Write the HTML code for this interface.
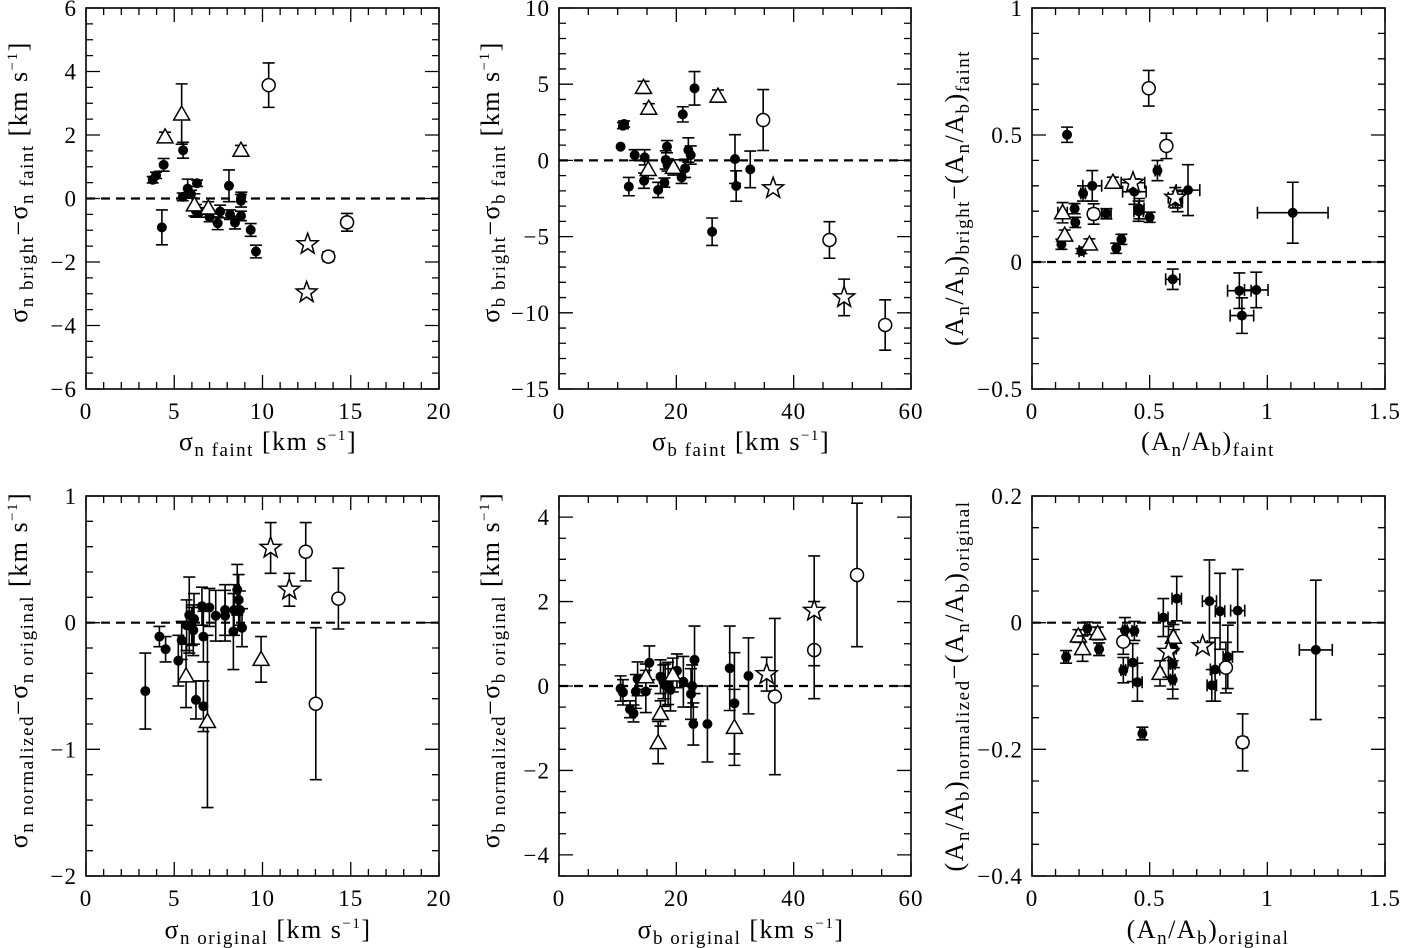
<!DOCTYPE html>
<html><head><meta charset="utf-8"><style>
html,body{margin:0;padding:0;background:#fff;}
svg{display:block;font-family:"Liberation Serif",serif;}
</style></head><body>
<svg id="fig" width="1403" height="948" viewBox="0 0 1403 948" xmlns="http://www.w3.org/2000/svg"></svg>
<script>
// kinds: f=filled circle, t=open triangle, o=open circle, s=open star
const p1_kind=['f','f','f','f','f','f','f','f','f','f','f','f','f','f','f','f','f','f','f','f','f','f','t','t','t','t','t','o','o','o','s','s'];
const p1_x=[3.78,3.97,4.4,4.3,5.5,5.48,5.76,6.29,5.95,6.23,6.4,7.0,7.46,7.6,8.1,8.16,8.44,8.78,8.78,8.8,9.33,9.63,4.48,5.42,6.14,6.93,8.78,10.35,13.73,14.79,12.56,12.5];
const p1_y=[0.59,0.73,1.06,-0.91,1.52,0.05,0.31,0.48,0.14,-0.39,-0.44,-0.58,-0.78,-0.41,0.4,-0.51,-0.76,-0.55,-0.07,0.05,-0.99,-1.67,1.94,2.66,-0.2,-0.3,1.52,3.57,-1.83,-0.75,-1.44,-2.96];
const p1_ey=[0.1,0.1,0.2,0.55,0.25,0.12,0.3,0.1,0.12,0.2,0.15,0.15,0.2,0.2,0.5,0.15,0.2,0.15,0.2,0.15,0.2,0.2,0.15,0.95,0.35,0.2,0.15,0.7,0.15,0.28,0,0];
const p1_ex=p1_x.map(()=>0);

const p2_kind=['f','f','f','f','f','f','f','f','f','f','f','f','f','f','f','f','f','f','f','f','f','f','t','t','t','t','t','o','o','o','s','s'];
const p2_x=[10.5,10.9,11.1,11.9,12.9,14.5,14.6,16.9,17.97,18.4,18.2,18.5,20.9,21.5,22.05,22.45,21.1,23.1,26.1,30.0,30.2,32.6,14.4,15.3,15.2,19.5,27.1,34.8,46.1,55.6,36.5,48.6];
const p2_y=[0.9,2.28,2.39,-1.72,0.35,-1.33,0.2,-1.94,-1.46,0.9,0.03,-0.3,-1.11,-0.52,0.68,0.35,3.02,4.73,-4.68,0.09,-1.68,-0.59,4.79,3.42,-0.6,-0.46,4.22,2.65,-5.22,-10.8,-1.83,-8.99];
const p2_ey=[0,0.2,0.2,0.6,0.35,0.5,0.5,0.5,0.3,0.4,0.6,0.4,0.4,0.6,0.8,0.6,0.5,1.1,0.9,1.6,1.0,1.2,0.4,0.3,0.6,0.5,0.4,2.0,1.2,1.65,0,1.2];
const p2_ex=p2_x.map(()=>0);

const p3_kind=['f','f','f','f','f','f','f','f','f','f','f','f','f','f','f','f','f','f','f','f','f','f','t','t','t','t','o','o','o','s','s'];
const p3_x=[0.149,0.125,0.181,0.184,0.21,0.217,0.256,0.316,0.358,0.38,0.435,0.453,0.456,0.5,0.533,0.598,0.619,0.663,0.881,0.953,0.892,1.108,0.13,0.139,0.244,0.344,0.496,0.571,0.262,0.429,0.609];
const p3_y=[0.501,0.07,0.21,0.156,0.043,0.27,0.3,0.19,0.054,0.089,0.277,0.2,0.21,0.176,0.36,-0.068,0.238,0.283,-0.113,-0.11,-0.211,0.194,0.194,0.106,0.071,0.314,0.684,0.457,0.189,0.312,0.253];
const p3_ex=[0,0.01,0.01,0.01,0.01,0.01,0.04,0.02,0.01,0.01,0.05,0.02,0.02,0.01,0.01,0.03,0.02,0.05,0.05,0.05,0.05,0.15,0.02,0.01,0.01,0.01,0,0.01,0.02,0.05,0.03];
const p3_ey=[0.03,0.02,0.02,0.02,0.01,0.03,0.06,0.02,0.02,0.02,0.05,0.04,0.04,0.02,0.04,0.04,0.04,0.1,0.07,0.07,0.07,0.12,0.04,0.02,0.02,0.02,0.07,0.05,0.04,0,0.04];

const p4_kind=['f','f','f','f','f','f','f','f','f','f','f','f','f','f','f','f','f','f','f','f','f','f','f','f','t','t','t','o','o','o','s','s'];
const p4_x=[3.36,4.16,4.51,5.23,5.42,5.7,5.85,5.99,6.08,6.12,6.23,6.57,6.65,6.65,6.99,7.35,7.88,7.88,8.35,8.39,8.57,8.65,8.72,8.84,5.67,6.88,9.92,12.45,13.02,14.3,10.46,11.52];
const p4_y=[-0.54,-0.11,-0.21,-0.3,-0.14,-0.02,0.06,-0.03,-0.06,0.03,-0.61,0.13,-0.11,-0.66,0.12,0.055,0.1,0.055,-0.07,0.1,0.26,0.18,0.1,-0.04,-0.42,-0.78,-0.29,0.56,-0.64,0.19,0.59,0.26];
const p4_ey=[0.3,0.08,0.1,0.2,0.15,0.2,0.3,0.15,0.2,0.2,0.15,0.15,0.2,0.2,0.15,0.2,0.2,0.2,0.3,0.2,0.2,0.2,0.15,0.15,0.25,0.68,0.18,0.23,0.6,0.24,0.2,0.13];
const p4_ex=p4_x.map(()=>0);

const p5_kind=['f','f','f','f','f','f','f','f','f','f','f','f','f','f','f','f','f','f','f','f','f','f','f','t','t','t','t','t','o','o','o','s','s'];
const p5_x=[10.5,10.9,12.1,12.7,13.1,13.4,14.8,15.4,17.3,17.8,18.1,18.6,19.0,20.1,21.2,22.5,22.7,23.1,22.9,25.3,29.1,29.9,32.3,14.8,17.3,16.9,19.4,29.9,36.8,43.5,50.8,35.4,43.5];
const p5_y=[-0.06,-0.15,-0.55,-0.65,-0.13,0.17,-0.13,0.55,0.22,0.1,0.02,0.06,-0.09,0.36,0.1,-0.19,0.0,0.62,-0.9,-0.9,0.42,-0.41,0.24,0.22,-0.65,-1.34,0.26,-0.98,-0.25,0.85,2.63,0.28,1.78];
const p5_ey=[0.3,0.3,0.2,0.2,0.4,0.4,0.5,0.4,0.4,0.4,0.5,0.5,0.5,0.4,0.6,0.6,0.5,0.8,0.5,0.9,1.0,1.2,0.9,0.3,0.3,0.5,0.4,0.9,1.85,1.15,1.7,0.4,1.3];
const p5_ex=p5_x.map(()=>0);

const p6_kind=['f','f','f','f','f','f','f','f','f','f','f','f','f','f','f','f','f','f','f','f','f','t','t','t','t','t','o','o','o','s','s'];
const p6_x=[0.145,0.235,0.285,0.395,0.388,0.428,0.435,0.448,0.469,0.558,0.615,0.603,0.598,0.598,0.754,0.778,0.764,0.799,0.832,0.874,1.206,0.197,0.215,0.279,0.544,0.601,0.388,0.824,0.895,0.725,0.58];
const p6_y=[-0.054,-0.009,-0.042,-0.012,-0.075,-0.063,-0.013,-0.094,-0.175,0.008,0.038,-0.041,-0.065,-0.09,0.034,-0.074,-0.099,0.018,-0.054,0.019,-0.043,-0.021,-0.041,-0.017,-0.08,-0.023,-0.03,-0.071,-0.189,-0.037,-0.046];
const p6_ex=[0.01,0.01,0.01,0.01,0.01,0.02,0.01,0.02,0.01,0.02,0.02,0.01,0.01,0.01,0.03,0.02,0.02,0.02,0.02,0.03,0.07,0.01,0.01,0.01,0.01,0.01,0.01,0.01,0.02,0.02,0.01];
const p6_ey=[0.01,0.01,0.01,0.02,0.02,0.03,0.015,0.03,0.01,0.03,0.035,0.03,0.04,0.03,0.065,0.05,0.025,0.06,0.05,0.065,0.11,0.01,0.02,0.01,0.02,0.02,0.02,0.04,0.045,0,0.04];

const NS='http://www.w3.org/2000/svg';
const svg=document.getElementById('fig');
function mk(tag,attrs,parent){const e=document.createElementNS(NS,tag);for(const k in attrs)e.setAttribute(k,attrs[k]);(parent||svg).appendChild(e);return e;}

const panels=[
 {id:'p1',L:86,R:439,T:8,B:389,x0:0,x1:20,y0:-6,y1:6,xM:5,xm:1,yM:2,ym:0.5,xt:[0,5,10,15,20],yt:[-6,-4,-2,0,2,4,6],k:p1_kind,x:p1_x,y:p1_y,ex:p1_ex,ey:p1_ey},
 {id:'p2',L:559,R:911,T:8,B:389,x0:0,x1:60,y0:-15,y1:10,xM:20,xm:5,yM:5,ym:1,xt:[0,20,40,60],yt:[-15,-10,-5,0,5,10],k:p2_kind,x:p2_x,y:p2_y,ex:p2_ex,ey:p2_ey},
 {id:'p3',L:1032,R:1385,T:8,B:389,x0:0,x1:1.5,y0:-0.5,y1:1,xM:0.5,xm:0.1,yM:0.5,ym:0.1,xt:[0,0.5,1,1.5],yt:[-0.5,0,0.5,1],k:p3_kind,x:p3_x,y:p3_y,ex:p3_ex,ey:p3_ey},
 {id:'p4',L:86,R:439,T:496,B:876,x0:0,x1:20,y0:-2,y1:1,xM:5,xm:1,yM:1,ym:0.2,xt:[0,5,10,15,20],yt:[-2,-1,0,1],k:p4_kind,x:p4_x,y:p4_y,ex:p4_ex,ey:p4_ey},
 {id:'p5',L:559,R:911,T:496,B:876,x0:0,x1:60,y0:-4.5,y1:4.5,xM:20,xm:5,yM:2,ym:0.5,xt:[0,20,40,60],yt:[-4,-2,0,2,4],k:p5_kind,x:p5_x,y:p5_y,ex:p5_ex,ey:p5_ey},
 {id:'p6',L:1032,R:1385,T:496,B:876,x0:0,x1:1.5,y0:-0.4,y1:0.2,xM:0.5,xm:0.1,yM:0.2,ym:0.05,xt:[0,0.5,1,1.5],yt:[-0.4,-0.2,0,0.2],k:p6_kind,x:p6_x,y:p6_y,ex:p6_ex,ey:p6_ey}
];
function fmt(v){let s=(Math.round(v*1000)/1000).toString();if(s.startsWith('-'))s='\u2212'+s.slice(1);return s;}

panels.forEach(P=>{
 const g=mk('g',{});
 
 
 const sx=v=>P.L+(v-P.x0)/(P.x1-P.x0)*(P.R-P.L);
 const sy=v=>P.B-(v-P.y0)/(P.y1-P.y0)*(P.B-P.T);
 const fr=mk('rect',{x:P.L,y:P.T,width:P.R-P.L,height:P.B-P.T,fill:'none',stroke:'#000','stroke-width':1.6},g);
 
 
 let d='';
 const nx=Math.round((P.x1-P.x0)/P.xm);
 for(let i=0;i<=nx;i++){const v=P.x0+i*P.xm;const X=sx(v);const maj=Math.abs(v/P.xM-Math.round(v/P.xM))<1e-6;const l=maj?14:7;d+=`M${X},${P.B}v${-l}M${X},${P.T}v${l}`;}
 const ny=Math.round((P.y1-P.y0)/P.ym);
 for(let i=0;i<=ny;i++){const v=P.y0+i*P.ym;const Y=sy(v);const maj=Math.abs(v/P.yM-Math.round(v/P.yM))<1e-6;const l=maj?14:7;d+=`M${P.L},${Y}h${l}M${P.R},${Y}h${-l}`;}
 const tk=mk('path',{d:d,stroke:'#000','stroke-width':1.3,fill:'none'},g);
 
 
 P.xt.forEach(v=>{const t=mk('text',{x:sx(v),y:P.B+30,'font-size':23,'letter-spacing':1,'text-anchor':'middle'},g);t.textContent=fmt(v);
  
  });
 P.yt.forEach(v=>{const t=mk('text',{x:P.L-9,y:sy(v)+8,'font-size':23,'letter-spacing':1,'text-anchor':'end'},g);t.textContent=fmt(v);
  
  });
 const z=mk('line',{x1:P.L,x2:P.R,y1:sy(0),y2:sy(0),stroke:'#000','stroke-width':2.2,'stroke-dasharray':'9,6'},g);
 
 
 for(let i=0;i<P.x.length;i++){
  const X=sx(P.x[i]),Y=sy(P.y[i]);
  let ed='';
  if(P.ey[i]>0){const a=sy(P.y[i]+P.ey[i]),b=sy(P.y[i]-P.ey[i]);ed+=`M${X},${a}V${b}M${X-6},${a}h12M${X-6},${b}h12`;}
  if(P.ex[i]>0){const a=sx(P.x[i]-P.ex[i]),b=sx(P.x[i]+P.ex[i]);ed+=`M${a},${Y}H${b}M${a},${Y-6}v12M${b},${Y-6}v12`;}
  if(ed){const e=mk('path',{d:ed,stroke:'#000','stroke-width':1.6,fill:'none'},g);
   
   }
  const k=P.k[i];let m;
  if(k==='f'){m=mk('circle',{cx:X,cy:Y,r:5,fill:'#000'},g);}
  else if(k==='o'){m=mk('circle',{cx:X,cy:Y,r:6.5,fill:'#fff',stroke:'#000','stroke-width':1.5},g);}
  else if(k==='t'){m=mk('polygon',{points:`${X},${Y-8} ${X-8},${Y+6} ${X+8},${Y+6}`,fill:'#fff',stroke:'#000','stroke-width':1.5},g);}
  else {let pts=[];for(let j=0;j<10;j++){const r=j%2?4.5:11;const a=-Math.PI/2+j*Math.PI/5;pts.push((X+r*Math.cos(a)).toFixed(1)+','+(Y+r*Math.sin(a)).toFixed(1));}
   m=mk('polygon',{points:pts.join(' '),fill:'#fff',stroke:'#000','stroke-width':1.5},g);}
  
  
 }
});
</script>
<svg style="position:absolute;left:0;top:0" width="1403" height="948" xmlns="http://www.w3.org/2000/svg" font-family="Liberation Serif, serif" font-size="26" letter-spacing="1.5">
 <text x="268" y="450" text-anchor="middle">σ<tspan font-size="19" dy="6">n faint</tspan><tspan dy="-6">  [km  s</tspan><tspan font-size="15" dy="-10">−1</tspan><tspan dy="10">]</tspan></text>
 <text x="741" y="450" text-anchor="middle">σ<tspan font-size="19" dy="6">b faint</tspan><tspan dy="-6">  [km  s</tspan><tspan font-size="15" dy="-10">−1</tspan><tspan dy="10">]</tspan></text>
 <text x="1208" y="450" text-anchor="middle">(A<tspan font-size="19" dy="6">n</tspan><tspan dy="-6">/A</tspan><tspan font-size="19" dy="6">b</tspan><tspan dy="-6">)</tspan><tspan font-size="19" dy="6">faint</tspan></text>
 <text x="268" y="938" text-anchor="middle">σ<tspan font-size="19" dy="6">n original</tspan><tspan dy="-6">  [km  s</tspan><tspan font-size="15" dy="-10">−1</tspan><tspan dy="10">]</tspan></text>
 <text x="741" y="938" text-anchor="middle">σ<tspan font-size="19" dy="6">b original</tspan><tspan dy="-6">  [km  s</tspan><tspan font-size="15" dy="-10">−1</tspan><tspan dy="10">]</tspan></text>
 <text x="1208" y="938" text-anchor="middle">(A<tspan font-size="19" dy="6">n</tspan><tspan dy="-6">/A</tspan><tspan font-size="19" dy="6">b</tspan><tspan dy="-6">)</tspan><tspan font-size="19" dy="6">original</tspan></text>
 <text transform="translate(27,182) rotate(-90)" text-anchor="middle">σ<tspan font-size="19" dy="6">n bright</tspan><tspan dy="-6">−σ</tspan><tspan font-size="19" dy="6">n faint</tspan><tspan dy="-6">  [km  s</tspan><tspan font-size="15" dy="-10">−1</tspan><tspan dy="10">]</tspan></text>
 <text transform="translate(499,182) rotate(-90)" text-anchor="middle">σ<tspan font-size="19" dy="6">b bright</tspan><tspan dy="-6">−σ</tspan><tspan font-size="19" dy="6">b faint</tspan><tspan dy="-6">  [km  s</tspan><tspan font-size="15" dy="-10">−1</tspan><tspan dy="10">]</tspan></text>
 <text transform="translate(963,198) rotate(-90)" text-anchor="middle">(A<tspan font-size="19" dy="6">n</tspan><tspan dy="-6">/A</tspan><tspan font-size="19" dy="6">b</tspan><tspan dy="-6">)</tspan><tspan font-size="19" dy="6">bright</tspan><tspan dy="-6">−(A</tspan><tspan font-size="19" dy="6">n</tspan><tspan dy="-6">/A</tspan><tspan font-size="19" dy="6">b</tspan><tspan dy="-6">)</tspan><tspan font-size="19" dy="6">faint</tspan></text>
 <text transform="translate(27,670) rotate(-90)" text-anchor="middle">σ<tspan font-size="19" dy="6">n normalized</tspan><tspan dy="-6">−σ</tspan><tspan font-size="19" dy="6">n original</tspan><tspan dy="-6">  [km  s</tspan><tspan font-size="15" dy="-10">−1</tspan><tspan dy="10">]</tspan></text>
 <text transform="translate(499,670) rotate(-90)" text-anchor="middle">σ<tspan font-size="19" dy="6">b normalized</tspan><tspan dy="-6">−σ</tspan><tspan font-size="19" dy="6">b original</tspan><tspan dy="-6">  [km  s</tspan><tspan font-size="15" dy="-10">−1</tspan><tspan dy="10">]</tspan></text>
 <text transform="translate(963,686) rotate(-90)" text-anchor="middle">(A<tspan font-size="19" dy="6">n</tspan><tspan dy="-6">/A</tspan><tspan font-size="19" dy="6">b</tspan><tspan dy="-6">)</tspan><tspan font-size="19" dy="6">normalized</tspan><tspan dy="-6">−(A</tspan><tspan font-size="19" dy="6">n</tspan><tspan dy="-6">/A</tspan><tspan font-size="19" dy="6">b</tspan><tspan dy="-6">)</tspan><tspan font-size="19" dy="6">original</tspan></text>
</svg>
</body></html>
